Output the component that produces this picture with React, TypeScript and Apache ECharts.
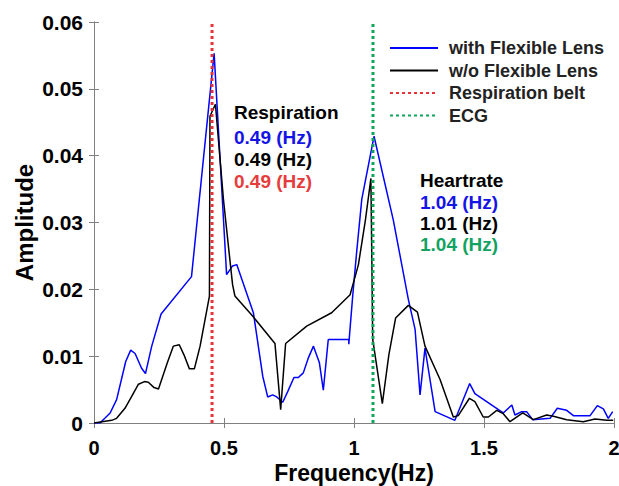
import React, { useEffect, useRef } from "react";
import * as echarts from "echarts";

const withLens: [number, number][] = [
  [0.0, 0.0], [0.023, 0.0], [0.062, 0.0015], [0.087, 0.0035], [0.122, 0.0092], [0.141, 0.0109],
  [0.158, 0.0104], [0.183, 0.0082], [0.198, 0.0074], [0.222, 0.0115], [0.258, 0.0163],
  [0.375, 0.0219], [0.462, 0.0553], [0.51, 0.0222], [0.533, 0.0235], [0.549, 0.0237],
  [0.613, 0.0165], [0.649, 0.007], [0.668, 0.0039], [0.687, 0.0042], [0.703, 0.0039],
  [0.726, 0.0031], [0.745, 0.0047], [0.769, 0.0068], [0.786, 0.0068], [0.805, 0.0075],
  [0.824, 0.0097], [0.844, 0.0115], [0.867, 0.009], [0.882, 0.0049], [0.901, 0.0125],
  [0.98, 0.0125], [0.98, 0.0118], [0.995, 0.019], [1.01, 0.0255], [1.03, 0.0335],
  [1.077, 0.0429], [1.151, 0.0304], [1.209, 0.0185], [1.235, 0.014], [1.254, 0.0042],
  [1.273, 0.0112], [1.312, 0.0017], [1.388, 0.0004], [1.445, 0.0059], [1.465, 0.0044],
  [1.574, 0.0015], [1.607, 0.0027], [1.619, 0.0012], [1.645, 0.0017], [1.664, 0.0017],
  [1.687, 0.0005], [1.754, 0.0007], [1.782, 0.0022], [1.818, 0.0019], [1.844, 0.0011],
  [1.908, 0.0011], [1.936, 0.0026], [1.959, 0.0021], [1.978, 0.0007], [1.995, 0.0017],
];

const withoutLens: [number, number][] = [
  [0.0, 0.0], [0.068, 0.0004], [0.087, 0.0007], [0.119, 0.0022], [0.145, 0.004],
  [0.171, 0.0058], [0.194, 0.0062], [0.209, 0.0061], [0.231, 0.0053], [0.248, 0.0051],
  [0.282, 0.009], [0.305, 0.0115], [0.328, 0.0117], [0.346, 0.0102], [0.367, 0.0081],
  [0.386, 0.0081], [0.408, 0.0115], [0.444, 0.019], [0.446, 0.0459], [0.467, 0.0477],
  [0.498, 0.0334], [0.521, 0.025], [0.533, 0.0207], [0.542, 0.019], [0.61, 0.016],
  [0.696, 0.0119], [0.718, 0.002], [0.737, 0.0119], [0.818, 0.0145], [0.914, 0.0165],
  [0.985, 0.0192], [1.017, 0.0237], [1.044, 0.0304], [1.065, 0.0366], [1.072, 0.0125],
  [1.109, 0.0029], [1.134, 0.0102], [1.16, 0.0157], [1.209, 0.0176], [1.244, 0.0166],
  [1.273, 0.0115], [1.331, 0.0065], [1.382, 0.0009], [1.401, 0.0011], [1.444, 0.0037],
  [1.465, 0.0032], [1.497, 0.0009], [1.517, 0.0009], [1.549, 0.0019], [1.574, 0.0014],
  [1.6, 0.0002], [1.649, 0.0015], [1.69, 0.0005], [1.741, 0.0012], [1.767, 0.001],
  [1.818, 0.0005], [1.882, 0.0002], [1.927, 0.0006], [1.972, 0.0004], [1.997, 0.0004],
];

const respirationBelt: [number, number][] = [[0.454, 0], [0.454, 0.06]];
const ecg: [number, number][] = [[1.073, 0], [1.073, 0.06]];

const seriesNames = ["with Flexible Lens", "w/o Flexible Lens", "Respiration belt", "ECG"];
const respLabels = ["Respiration", "0.49 (Hz)", "0.49 (Hz)", "0.49 (Hz)"];
const heartLabels = ["Heartrate", "1.04 (Hz)", "1.01 (Hz)", "1.04 (Hz)"];

const BLUE = "#0000ff";
const BLACK = "#000000";
const RED = "#e8323a";
const GREEN = "#10a55a";
const TXT_BLUE = "#1414e6";
const TXT_RED = "#e63c3c";
const TXT_GREEN = "#12a362";
const FONT = "Liberation Sans";

export default function App() {
  const ref = useRef<HTMLDivElement>(null);
  useEffect(() => {
    if (!ref.current) return;
    const chart = echarts.init(ref.current, undefined, { renderer: "svg" });
    const annColors = [BLACK, TXT_BLUE, BLACK, TXT_RED];
    const heartColors = [BLACK, TXT_BLUE, BLACK, TXT_GREEN];
    const mkText = (txt: string, x: number, y: number, color: string) => ({
      type: "text",
      x,
      y,
      style: {
        text: txt,
        fill: color,
        font: `bold 19px "${FONT}"`,
        textVerticalAlign: "middle",
        verticalAlign: "middle",
      },
    });
    const graphics: any[] = [];
    const respY = [112, 137.5, 159.5, 181.5];
    const heartY = [180, 202, 223, 244];
    respLabels.forEach((t, i) => graphics.push(mkText(t, 234, respY[i], annColors[i])));
    heartLabels.forEach((t, i) => graphics.push(mkText(t, 420, heartY[i], heartColors[i])));

    const axisCommon = {
      axisLine: { show: true, lineStyle: { color: "#808080", width: 1 } },
      axisTick: { show: true, inside: true, length: 5, lineStyle: { color: "#808080" } },
      splitLine: { show: false },
    };

    chart.setOption({
      animation: false,
      backgroundColor: "#ffffff",
      grid: {
        left: 94,
        right: 5,
        top: 22,
        bottom: 63,
        containLabel: false,
        outerBoundsMode: "none",
      },
      legend: {
        orient: "vertical",
        left: 389,
        top: 39,
        padding: 0,
        itemWidth: 48,
        itemHeight: 14,
        itemGap: 4.5,
        itemStyle: { opacity: 0 },
        data: seriesNames,
        textStyle: {
          fontFamily: FONT,
          fontWeight: "bold",
          fontSize: 18,
          color: "#222",
          padding: [0, 0, 0, 6],
        },
      },
      xAxis: [
        {
          type: "value",
          min: 0,
          max: 2,
          interval: 0.5,
          position: "bottom",
          ...axisCommon,
          axisLabel: {
            fontFamily: FONT,
            fontWeight: "bold",
            fontSize: 20,
            lineHeight: 17,
            color: "#000",
            margin: 16.5,
            formatter: (v: number) => String(v),
          },
          name: "Frequency(Hz)",
          nameLocation: "middle",
          nameGap: 39.5,
          nameMoveOverlap: false,
          nameTextStyle: {
            fontFamily: FONT,
            fontWeight: "bold",
            fontSize: 23,
            lineHeight: 20,
            color: "#000",
          },
        },
        {
          type: "value",
          min: 0,
          max: 2,
          interval: 0.5,
          position: "top",
          ...axisCommon,
          axisLabel: { show: false },
        },
      ],
      yAxis: [
        {
          type: "value",
          min: 0,
          max: 0.06,
          interval: 0.01,
          position: "left",
          ...axisCommon,
          axisLabel: {
            fontFamily: FONT,
            fontWeight: "bold",
            fontSize: 21,
            color: "#000",
            margin: 11,
            formatter: (v: number) => (v === 0 ? "0" : v.toFixed(2)),
          },
          name: "Amplitude",
          nameLocation: "middle",
          nameGap: 58,
          nameRotate: 90,
          nameMoveOverlap: false,
          nameTextStyle: { fontFamily: FONT, fontWeight: "bold", fontSize: 24, color: "#000" },
        },
        {
          type: "value",
          min: 0,
          max: 0.06,
          interval: 0.01,
          position: "right",
          ...axisCommon,
          axisLabel: { show: false },
        },
      ],
      series: [
        {
          name: seriesNames[0],
          type: "line",
          data: withLens,
          symbol: "none",
          lineStyle: { color: BLUE, width: 1.5 },
          itemStyle: { color: BLUE },
          z: 2,
        },
        {
          name: seriesNames[1],
          type: "line",
          data: withoutLens,
          symbol: "none",
          lineStyle: { color: BLACK, width: 1.5 },
          itemStyle: { color: BLACK },
          z: 3,
        },
        {
          name: seriesNames[2],
          type: "line",
          data: respirationBelt,
          symbol: "none",
          lineStyle: { color: RED, width: 3, type: [3, 3] },
          itemStyle: { color: RED },
          z: 4,
        },
        {
          name: seriesNames[3],
          type: "line",
          data: ecg,
          symbol: "none",
          lineStyle: { color: GREEN, width: 3, type: [3, 3] },
          itemStyle: { color: GREEN },
          z: 4,
        },
      ],
      graphic: graphics,
    });
    return () => chart.dispose();
  }, []);
  return <div ref={ref} style={{ width: 619, height: 486, position: "absolute", left: 0, top: 0 }} />;
}
